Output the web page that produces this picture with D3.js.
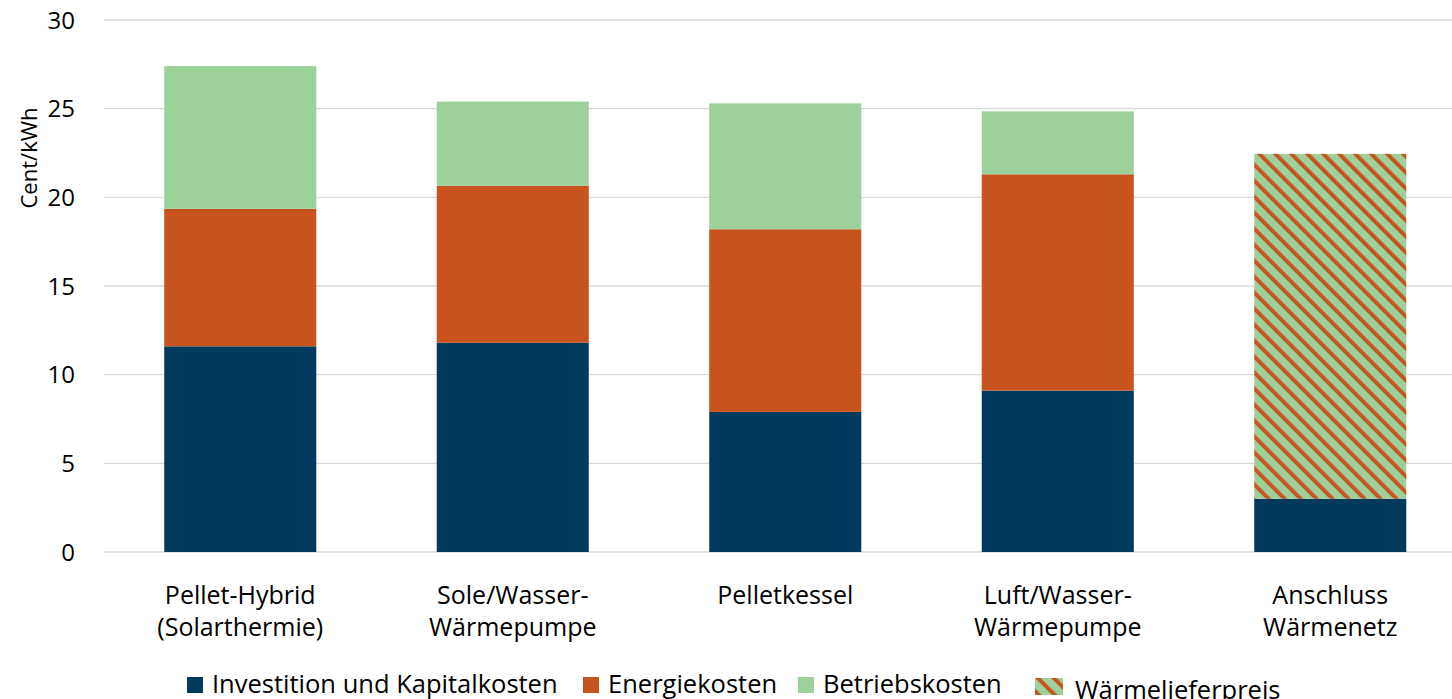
<!DOCTYPE html>
<html>
<head>
<meta charset="utf-8">
<script src="https://cdn.jsdelivr.net/npm/d3@7"></script>
<style>
body { margin: 0; background: #fff; }
text { font-family: "Open Sans", sans-serif; fill: #000; }
</style>
</head>
<body>
<svg id="chart"></svg>
<script>
// data
var categories = ["Pellet-Hybrid (Solarthermie)", "Sole/Wasser-Wärmepumpe", "Pelletkessel", "Luft/Wasser-Wärmepumpe", "Anschluss Wärmenetz"];
var categoryLines = [["Pellet-Hybrid", "(Solarthermie)"], ["Sole/Wasser-", "Wärmepumpe"], ["Pelletkessel"], ["Luft/Wasser-", "Wärmepumpe"], ["Anschluss", "Wärmenetz"]];
var seriesNames = ["Investition und Kapitalkosten", "Energiekosten", "Betriebskosten", "Wärmelieferpreis"];
var investition = [11.6, 11.8, 7.9, 9.1, 3.0];
var energie = [7.75, 8.85, 10.3, 12.2, 0];
var betrieb = [8.05, 4.75, 7.1, 3.55, 0];
var waermeliefer = [0, 0, 0, 0, 19.45];
var yTicks = [0, 5, 10, 15, 20, 25, 30];

var width = 1452, height = 699;
var margin = {top: 20, left: 104, bottom: 147};

var svg = d3.select("#chart").attr("width", width).attr("height", height);

// hatch pattern for Wärmelieferpreis
var defs = svg.append("defs");
var pat = defs.append("pattern")
    .attr("id", "hatch")
    .attr("patternUnits", "userSpaceOnUse")
    .attr("width", 11.3)
    .attr("height", 11.3)
    .attr("patternTransform", "rotate(-45)");
pat.append("rect").attr("width", 11.3).attr("height", 11.3).attr("fill", "#9dd19a");
pat.append("rect").attr("width", 4).attr("height", 11.3).attr("fill", "#c7531e");

var colors = ["#023a5e", "#c7531e", "#9dd19a", "url(#hatch)"];

var rows = categories.map(function(c, i) {
  return {cat: c, s0: investition[i], s1: energie[i], s2: betrieb[i], s3: waermeliefer[i]};
});
var stack = d3.stack().keys(["s0", "s1", "s2", "s3"])(rows);

var x = d3.scaleBand()
    .domain(categories)
    .range([104, 1466.5])
    .paddingInner(0.442)
    .paddingOuter(0.221);

var y = d3.scaleLinear()
    .domain([0, 30])
    .range([height - margin.bottom, margin.top]);

// gridlines
svg.append("g")
  .selectAll("line")
  .data(yTicks)
  .enter().append("line")
    .attr("x1", 104)
    .attr("x2", width)
    .attr("y1", function(d) { return y(d); })
    .attr("y2", function(d) { return y(d); })
    .attr("stroke", "#d9d9d9")
    .attr("stroke-width", 1.3);

// y tick labels
svg.append("g")
  .selectAll("text")
  .data(yTicks)
  .enter().append("text")
    .attr("x", 75)
    .attr("y", function(d) { return y(d); })
    .attr("dy", "0.36em")
    .attr("text-anchor", "end")
    .style("font-size", "24px")
    .text(function(d) { return d; });

// y axis label
svg.append("text")
    .attr("transform", "translate(37," + 158 + ") rotate(-90)")
    .attr("text-anchor", "middle")
    .style("font-size", "22px")
    .text("Cent/kWh");

// bars
svg.append("g")
  .selectAll("g")
  .data(stack)
  .enter().append("g")
    .attr("fill", function(d, i) { return colors[i]; })
  .selectAll("rect")
  .data(function(d) { return d; })
  .enter().append("rect")
    .attr("x", function(d) { return x(d.data.cat); })
    .attr("width", x.bandwidth())
    .attr("y", function(d) { return y(d[1]); })
    .attr("height", function(d) { return y(d[0]) - y(d[1]); });

// category labels
var catLabels = svg.append("g")
  .selectAll("text")
  .data(categories)
  .enter().append("text")
    .attr("text-anchor", "middle")
    .attr("x", function(d) { return x(d) + x.bandwidth() / 2; })
    .attr("y", 604)
    .style("font-size", "25px");
catLabels.selectAll("tspan")
  .data(function(d, i) { return categoryLines[i]; })
  .enter().append("tspan")
    .attr("x", function() { return d3.select(this.parentNode).attr("x"); })
    .attr("dy", function(d, i) { return i === 0 ? 0 : 32; })
    .text(function(d) { return d; });

// legend
var legendX = [187, 583, 798, 1035];
var legend = svg.append("g")
  .selectAll("g")
  .data(seriesNames)
  .enter().append("g")
    .attr("transform", function(d, i) { return "translate(" + legendX[i] + "," + (i === 3 ? 678 : 677) + ")"; });
legend.append("rect")
    .attr("width", function(d, i) { return i === 3 ? 28 : 16; })
    .attr("height", function(d, i) { return i === 3 ? 17 : 16; })
    .attr("fill", function(d, i) { return colors[i]; });
legend.append("text")
    .attr("x", function(d, i) { return i === 3 ? 40 : 25; })
    .attr("y", function(d, i) { return i === 3 ? 21 : 16; })
    .style("font-size", "25.5px")
    .text(function(d) { return d; });
</script>
</body>
</html>
